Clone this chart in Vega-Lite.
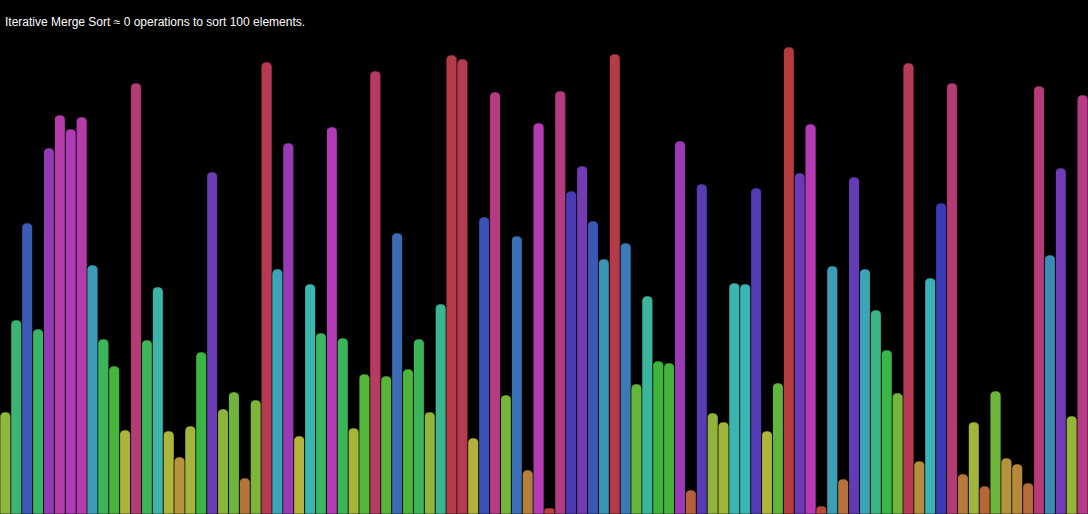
{
  "$schema": "https://vega.github.io/schema/vega-lite/v6.json",
  "width": 1088,
  "height": 514,
  "padding": 0,
  "autosize": {"type": "none"},
  "background": "#000000",
  "title": {
    "text": "Iterative Merge Sort ≈ 0 operations to sort 100 elements.",
    "anchor": "start",
    "frame": "group",
    "orient": "top",
    "offset": -29,
    "dx": 5,
    "font": "Liberation Sans",
    "fontSize": 12,
    "fontWeight": "normal",
    "color": "#ffffff"
  },
  "data": {
    "values": [
      {"i": 0, "v": 102}, {"i": 1, "v": 194}, {"i": 2, "v": 291}, {"i": 3, "v": 185}, {"i": 4, "v": 366},
      {"i": 5, "v": 399}, {"i": 6, "v": 385}, {"i": 7, "v": 397}, {"i": 8, "v": 249}, {"i": 9, "v": 175},
      {"i": 10, "v": 148}, {"i": 11, "v": 84}, {"i": 12, "v": 431}, {"i": 13, "v": 174}, {"i": 14, "v": 227},
      {"i": 15, "v": 83}, {"i": 16, "v": 57}, {"i": 17, "v": 88}, {"i": 18, "v": 162}, {"i": 19, "v": 342},
      {"i": 20, "v": 105}, {"i": 21, "v": 122}, {"i": 22, "v": 36}, {"i": 23, "v": 114}, {"i": 24, "v": 452},
      {"i": 25, "v": 245}, {"i": 26, "v": 371}, {"i": 27, "v": 78}, {"i": 28, "v": 230}, {"i": 29, "v": 181},
      {"i": 30, "v": 387}, {"i": 31, "v": 176}, {"i": 32, "v": 86}, {"i": 33, "v": 140}, {"i": 34, "v": 443},
      {"i": 35, "v": 138}, {"i": 36, "v": 281}, {"i": 37, "v": 145}, {"i": 38, "v": 175}, {"i": 39, "v": 102},
      {"i": 40, "v": 210}, {"i": 41, "v": 459}, {"i": 42, "v": 455}, {"i": 43, "v": 76}, {"i": 44, "v": 297},
      {"i": 45, "v": 422}, {"i": 46, "v": 119}, {"i": 47, "v": 278}, {"i": 48, "v": 44}, {"i": 49, "v": 391},
      {"i": 50, "v": 6}, {"i": 51, "v": 423}, {"i": 52, "v": 323}, {"i": 53, "v": 348}, {"i": 54, "v": 293},
      {"i": 55, "v": 255}, {"i": 56, "v": 460}, {"i": 57, "v": 271}, {"i": 58, "v": 130}, {"i": 59, "v": 218},
      {"i": 60, "v": 153}, {"i": 61, "v": 151}, {"i": 62, "v": 373}, {"i": 63, "v": 24}, {"i": 64, "v": 330},
      {"i": 65, "v": 101}, {"i": 66, "v": 92}, {"i": 67, "v": 231}, {"i": 68, "v": 230}, {"i": 69, "v": 326},
      {"i": 70, "v": 83}, {"i": 71, "v": 131}, {"i": 72, "v": 467}, {"i": 73, "v": 341}, {"i": 74, "v": 390},
      {"i": 75, "v": 8}, {"i": 76, "v": 248}, {"i": 77, "v": 35}, {"i": 78, "v": 337}, {"i": 79, "v": 245},
      {"i": 80, "v": 204}, {"i": 81, "v": 164}, {"i": 82, "v": 121}, {"i": 83, "v": 451}, {"i": 84, "v": 53},
      {"i": 85, "v": 236}, {"i": 86, "v": 311}, {"i": 87, "v": 431}, {"i": 88, "v": 40}, {"i": 89, "v": 92},
      {"i": 90, "v": 28}, {"i": 91, "v": 123}, {"i": 92, "v": 56}, {"i": 93, "v": 50}, {"i": 94, "v": 31},
      {"i": 95, "v": 428}, {"i": 96, "v": 259}, {"i": 97, "v": 346}, {"i": 98, "v": 98}, {"i": 99, "v": 419}
    ]
  },
  "mark": {
    "type": "bar",
    "cornerRadiusTopLeft": 5,
    "cornerRadiusTopRight": 5,
    "stroke": "#000000",
    "strokeOpacity": 0.3,
    "strokeWidth": 1
  },
  "encoding": {
    "x": {
      "field": "i",
      "type": "ordinal",
      "sort": null,
      "scale": {"paddingInner": 0, "paddingOuter": 0},
      "axis": null
    },
    "y": {
      "field": "v",
      "type": "quantitative",
      "scale": {"domain": [0, 514], "nice": false, "zero": true},
      "axis": null
    },
    "color": {
      "field": "v",
      "type": "quantitative",
      "scale": {
        "domain": [0, 117, 234, 350, 467],
        "range": ["hsl(0,51%,47%)", "hsl(90,51%,47%)", "hsl(180,51%,47%)", "hsl(270,51%,47%)", "hsl(359,51%,47%)"],
        "interpolate": "hsl"
      },
      "legend": null
    }
  },
  "config": {
    "view": {"stroke": null}
  }
}
